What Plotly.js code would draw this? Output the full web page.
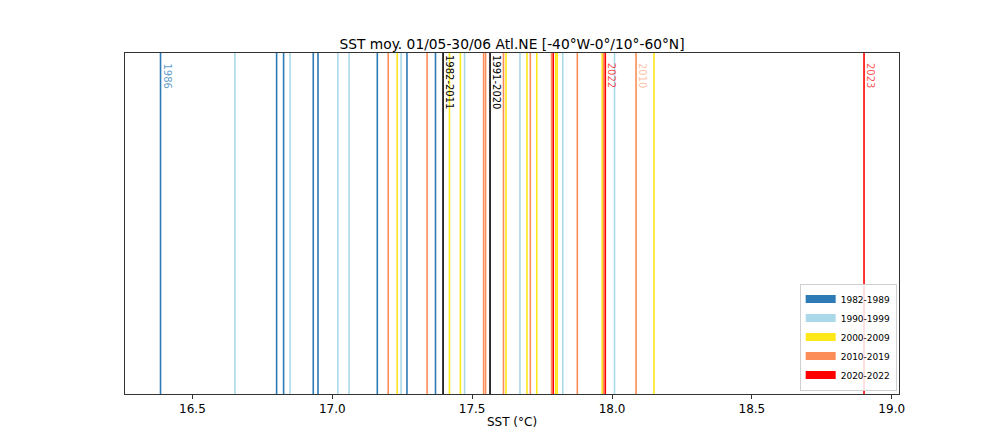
<!DOCTYPE html>
<html>
<head>
<meta charset="utf-8">
<script src="https://cdn.plot.ly/plotly-3.0.1.min.js"></script>
<style>html,body{margin:0;padding:0;background:#fff;}#chart{width:1000px;height:444px;}</style>
</head>
<body>
<div id="chart"></div>
<script>
// SST values (°C) per decade
const groupNames = ['1982-1989', '1990-1999', '2000-2009', '2010-2019', '2020-2022'];
const sst1980s = [16.386, 16.801, 16.826, 16.932, 16.949, 17.161, 17.267, 17.369];
const sst1990s = [16.652, 16.849, 17.020, 17.060, 17.246, 17.473, 17.671, 17.824, 18.009];
const sst2000s = [17.232, 17.419, 17.458, 17.621, 17.696, 17.731, 17.799, 17.804, 17.965, 18.150];
const sst2010s = [17.200, 17.339, 17.541, 17.548, 17.612, 17.708, 17.784, 17.876, 17.970, 18.086];
const sst2020s = [17.790, 17.976];
const sst2023 = [18.901];
const climNames = ['1982-2011', '1991-2020'];
const climValues = [17.396, 17.564];
const labelYears = ['1986', '2010', '2022', '2023'];
const labelValues = [16.386, 18.086, 17.976, 18.901];

const groupColors = ['#2c7bb6', '#abd9e9', '#ffe81a', '#fc8d59', '#ff0000'];
const labelColors = ['rgba(44,123,182,0.75)', 'rgba(252,141,89,0.55)', 'rgba(255,0,0,0.7)', 'rgba(255,0,0,0.7)'];

function vlines(vals) {
  const x = [], y = [];
  vals.forEach(v => { x.push(v, v, null); y.push(0, 1, null); });
  return {x, y};
}

const groups = [sst1980s, sst1990s, sst2000s, sst2010s, sst2020s.concat(sst2023)];
const traces = [];
groups.forEach((vals, i) => {
  const d = vlines(vals);
  traces.push({x: d.x, y: d.y, type: 'scatter', mode: 'lines', line: {color: groupColors[i], width: 1.6},
    showlegend: false, hoverinfo: 'x'});
});
const dc = vlines(climValues);
traces.push({x: dc.x, y: dc.y, type: 'scatter', mode: 'lines', line: {color: '#000000', width: 1.6}, showlegend: false, hoverinfo: 'x'});
// legend swatches
groupNames.forEach((n, i) => {
  traces.push({x: [null], y: [null], type: 'scatter', mode: 'lines', name: n,
    line: {color: groupColors[i], width: 8}, showlegend: true});
});

const annotations = [];
labelYears.forEach((t, i) => {
  annotations.push({x: labelValues[i], y: 1, xref: 'x', yref: 'y', text: t, showarrow: false,
    textangle: 90, xanchor: 'left', yanchor: 'top', xshift: -1, yshift: -8,
    font: {family: 'DejaVu Sans', size: 10, color: labelColors[i]}});
});
climNames.forEach((t, i) => {
  annotations.push({x: climValues[i], y: 1, xref: 'x', yref: 'y', text: t, showarrow: false,
    textangle: 90, xanchor: 'left', yanchor: 'top', xshift: -1, yshift: 0,
    font: {family: 'DejaVu Sans', size: 10, color: '#000'}});
});

const layout = {
  width: 1000, height: 444,
  margin: {l: 125, r: 101, t: 53, b: 50, pad: 0},
  paper_bgcolor: '#fff', plot_bgcolor: '#fff',
  font: {family: 'DejaVu Sans', color: '#000'},
  title: {text: 'SST moy. 01/05-30/06 Atl.NE [-40°W-0°/10°-60°N]', x: 0.512, xanchor: 'center', y: 0.889, yanchor: 'bottom',
    yref: 'container', font: {size: 13.8, family: 'DejaVu Sans'}},
  xaxis: {range: [16.259, 19.026], tickvals: [16.5, 17.0, 17.5, 18.0, 18.5, 19.0], ticktext: ['16.5', '17.0', '17.5', '18.0', '18.5', '19.0'],
    ticks: 'outside', ticklen: 4, tickcolor: '#333', tickwidth: 1, showgrid: false, zeroline: false,
    showline: true, linecolor: '#333', linewidth: 1, mirror: true, tickfont: {size: 12},
    title: {text: 'SST (°C)', font: {size: 12}, standoff: 2}},
  yaxis: {range: [0, 1], showticklabels: false, ticks: '', showgrid: false, zeroline: false,
    showline: true, linecolor: '#333', linewidth: 1, mirror: true},
  legend: {x: 0.997, y: 0.01, xanchor: 'right', yanchor: 'bottom', bgcolor: 'rgba(255,255,255,0.85)',
    bordercolor: '#d0d0d0', borderwidth: 1, font: {size: 9}, itemwidth: 30, tracegroupgap: 0},
  annotations: annotations,
  showlegend: true
};
Plotly.newPlot('chart', traces, layout, {displayModeBar: false, staticPlot: true});
</script>
</body>
</html>
